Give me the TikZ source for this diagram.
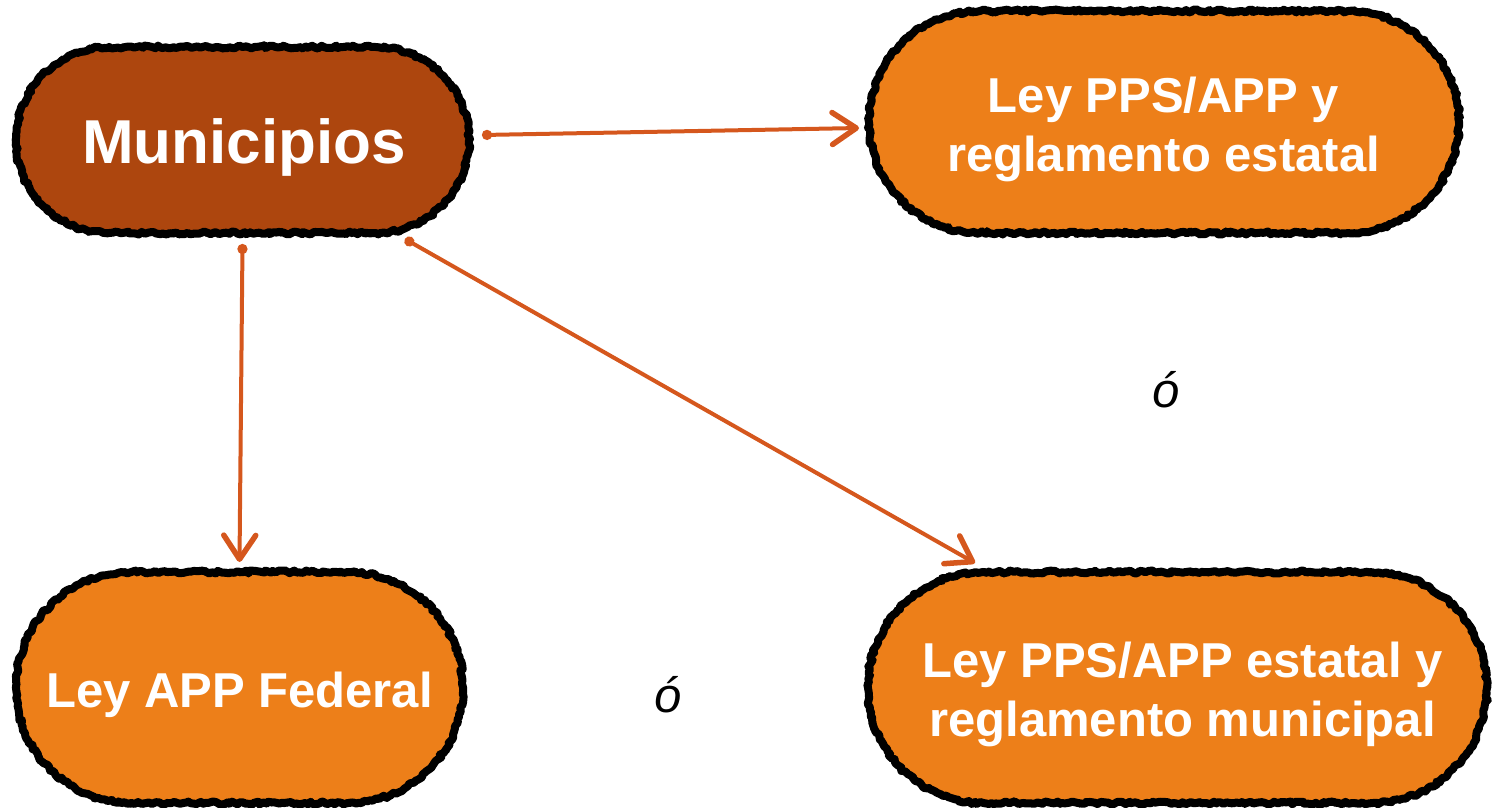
\documentclass[tikz,border=0pt]{standalone}
\usepackage{fontspec}
\setmainfont{Liberation Sans}
\usetikzlibrary{arrows.meta,shapes.misc,decorations.pathmorphing}
\definecolor{darkor}{RGB}{173,70,14}
\definecolor{lightor}{RGB}{237,127,25}
\definecolor{arrowc}{RGB}{213,87,29}
\tikzset{
  box/.style={rounded rectangle, fill=#1, draw=black, line width=8pt, line join=round, inner sep=0pt,
    decorate, decoration={random steps, segment length=3pt, amplitude=1.5pt},
    postaction={draw=black, line width=4pt, line join=round, decorate,
      decoration={random steps, segment length=2pt, amplitude=2.5pt}}},
  lbl/.style={text=white, font=\bfseries\fontsize{49}{59}\selectfont, align=center, inner sep=0pt},
  orlbl/.style={font=\itshape\fontsize{49}{59}\selectfont, inner sep=0pt, anchor=base},
  conn/.style={draw=arrowc, line width=4pt, line cap=round,
    {Circle[length=10pt]}-{Straight Barb[length=24pt,width=32pt,line width=5.5pt,line cap=round,line join=round]}}
}
\begin{document}
\begin{tikzpicture}[x=1pt,y=-1pt]
\useasboundingbox (0,0) rectangle (1493,807);
% boxes
\node[box=darkor, minimum width=453pt, minimum height=186pt] (mun) at (242.5,140) {};
\node[box=lightor, minimum width=590pt, minimum height=222pt] (tr) at (1164,122) {};
\node[box=lightor, minimum width=447pt, minimum height=231pt] (bl) at (239.5,687.5) {};
\node[box=lightor, minimum width=619pt, minimum height=231pt] (br) at (1177.5,687.5) {};
% texts
\node[lbl, anchor=base, font=\bfseries\fontsize{62}{70}\selectfont] (munt) at (244,163) {Municipios};
\node[lbl] (trt) at (1163.5,129.5) {Ley PPS/APP y\\reglamento estatal};
\node[lbl, anchor=base] (blt) at (239.5,707) {Ley APP Federal};
\node[lbl] (brt) at (1182.5,694.5) {Ley PPS/APP estatal y\\reglamento municipal};
\node[orlbl] (o1) at (1166,407) {ó};
\node[orlbl] (o2) at (668,712) {ó};
% connectors
\draw[conn] ([xshift=9pt,yshift=5pt]mun.east) -- ([xshift=-6pt,yshift=-6pt]tr.west);
\draw[conn] ([yshift=-7pt]mun.south) -- ([yshift=6pt]bl.north);
\draw[conn] ([xshift=162.5pt,yshift=-2pt]mun.south) -- ([xshift=-202.5pt,yshift=5pt]br.north);
\end{tikzpicture}
\end{document}
